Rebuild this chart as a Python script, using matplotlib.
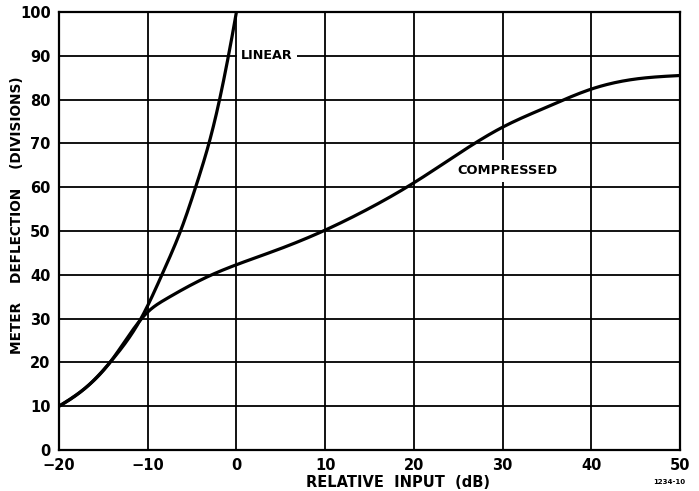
import matplotlib
matplotlib.use("Agg")
import matplotlib.pyplot as plt
import numpy as np

# Data
linear_x = [-20, -17, -14.25, -11.1, -8.4, -6.3, -4.6, -3.1, -1.9, -0.9, 0]
linear_y = [10, 14.2, 20, 28.8, 40, 50, 60, 70, 80, 90, 100]

comp_x = [-20, -17, -14.25, -12, -10, -8, -5, -3, 0, 5, 10, 15, 20, 25, 30, 35, 40, 45, 50]
comp_y = [10, 14.2, 20, 26.5, 31.5, 34.4, 37.8, 39.8, 42.3, 46, 50.2, 55.2, 61, 67.6, 73.7, 78.3, 82.4, 84.7, 85.5]

x_ticks = [-20, -10, 0, 10, 20, 30, 40, 50]
x_ticklabels = ["\u221220", "\u221210", "0", "10", "20", "30", "40", "50"]
y_ticks = [0, 10, 20, 30, 40, 50, 60, 70, 80, 90, 100]

plt.rcParams['font.family'] = ['DejaVu Sans']
plt.rcParams['font.weight'] = 'bold'

fig = plt.figure(figsize=(6.99, 4.91), dpi=100)
ax = fig.add_axes([59/699, 41/491, (680-59)/699, (450-12)/491])


def natural_spline(xs, ys, n=400):
    xs = np.asarray(xs, float); ys = np.asarray(ys, float)
    k = len(xs)
    h = np.diff(xs)
    A = np.zeros((k, k)); r = np.zeros(k)
    A[0, 0] = 1; A[-1, -1] = 1
    for i in range(1, k - 1):
        A[i, i-1] = h[i-1]; A[i, i] = 2*(h[i-1] + h[i]); A[i, i+1] = h[i]
        r[i] = 6*((ys[i+1]-ys[i])/h[i] - (ys[i]-ys[i-1])/h[i-1])
    M = np.linalg.solve(A, r)
    xx = np.linspace(xs[0], xs[-1], n)
    idx = np.clip(np.searchsorted(xs, xx) - 1, 0, k - 2)
    x0 = xs[idx]; x1 = xs[idx+1]; hh = h[idx]
    yy = (M[idx]*(x1-xx)**3/(6*hh) + M[idx+1]*(xx-x0)**3/(6*hh)
          + (ys[idx]/hh - M[idx]*hh/6)*(x1-xx) + (ys[idx+1]/hh - M[idx+1]*hh/6)*(xx-x0))
    return xx, yy

# linear curve: interpolate in log space for a smooth exponential-like shape
lx, lly = natural_spline(linear_x, np.log(linear_y))
ly = np.exp(lly)
cx, cy = natural_spline(comp_x, comp_y)
ax.plot(lx, ly, color='black', lw=2.3, solid_capstyle='round', zorder=3)
ax.plot(cx, cy, color='black', lw=2.3, solid_capstyle='round', zorder=3)

ax.set_xlim(-20, 50)
ax.set_ylim(0, 100)
ax.set_xticks(x_ticks)
ax.set_xticklabels(x_ticklabels)
ax.set_yticks(y_ticks)
ax.grid(True, color='black', lw=1.3, zorder=1)
ax.tick_params(length=0, labelsize=10.5, pad=6)
for lab in ax.get_xticklabels() + ax.get_yticklabels():
    lab.set_fontweight('bold')
for s in ax.spines.values():
    s.set_linewidth(1.6)

ax.set_xlabel("RELATIVE  INPUT  (dB)", fontsize=10.5, fontweight='bold', labelpad=1)
ax.xaxis.set_label_coords(0.546, -0.058)
ax.set_ylabel("METER    DEFLECTION    (DIVISIONS)", fontsize=9.8, fontweight='bold')
ax.yaxis.set_label_coords(-0.056, 0.537)

ax.text(0.55, 90, "LINEAR", fontsize=9.2, fontweight='bold', va='center', ha='left',
        bbox=dict(facecolor='white', edgecolor='none', pad=3), zorder=4)
ax.text(30.5, 63.7, "COMPRESSED", fontsize=9.4, fontweight='bold', va='center', ha='center',
        bbox=dict(facecolor='white', edgecolor='none', pad=3), zorder=4)

fig.text(669/699, 1 - 482/491, "1234-10", fontsize=5, fontweight='bold', ha='center', va='center')

fig.savefig("out.png", dpi=100)
